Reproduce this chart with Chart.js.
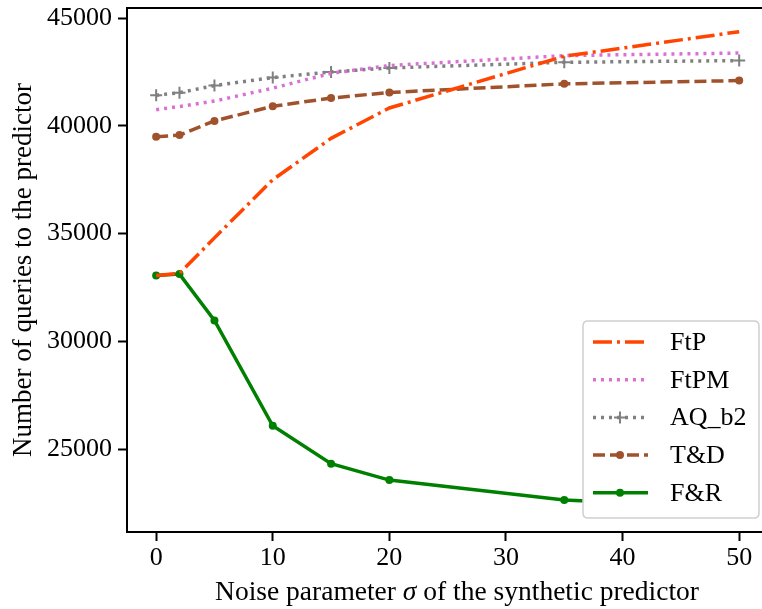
<!DOCTYPE html>
<html>
<head>
<meta charset="utf-8">
<script src="https://cdn.jsdelivr.net/npm/chart.js@4.4.0/dist/chart.umd.min.js"></script>
<style>
  html, body { margin: 0; padding: 0; background: #fff; }
  #wrap { width: 762px; height: 609px; }
</style>
</head>
<body>
<div id="wrap"><canvas id="myChart" width="762" height="609"></canvas></div>
<script>
// noise parameter sigma (x values)
const sigma = [0, 2, 5, 10, 15, 20, 35, 50];

// number of queries per method
const ftp  = [33050, 33150, 34800, 37500, 39420, 40830, 43230, 44370];
const ftpm = [40750, 40900, 41150, 41750, 42440, 42800, 43260, 43380];
const aqb2 = [41420, 41540, 41870, 42240, 42500, 42690, 42950, 43030];
const td   = [39490, 39570, 40230, 40910, 41290, 41550, 41950, 42100];
const fr   = [33050, 33120, 30970, 26080, 24320, 23560, 22630, 22260];

const xTicks = [0, 10, 20, 30, 40, 50];
const yTicks = [25000, 30000, 35000, 40000, 45000];

const serif = "'Liberation Serif', 'Times New Roman', serif";

const pts = (arr) => arr.map((v, i) => ({ x: sigma[i], y: v }));

// top frame line, axis titles (with italic sigma) and a matplotlib-like legend
const framePlugin = {
  id: 'frame',
  afterDraw(chart) {
    const c = chart.ctx, a = chart.chartArea;
    c.save();
    c.strokeStyle = '#000';
    c.lineWidth = 2;
    c.beginPath();
    c.moveTo(a.left - 1, a.top);
    c.lineTo(chart.width, a.top);
    c.stroke();
    // x axis runs past the crop on the right as well
    c.beginPath();
    c.moveTo(a.right, a.bottom);
    c.lineTo(chart.width, a.bottom);
    c.stroke();

    // axis titles
    c.fillStyle = '#000';
    c.textBaseline = 'alphabetic';
    const parts = [['Noise parameter ', ''], ['σ', 'italic '], [' of the synthetic predictor', '']];
    let total = 0;
    parts.forEach(p => { c.font = p[1] + '27.5px ' + serif; total += c.measureText(p[0]).width; });
    let tx = 457 - total / 2;
    c.textAlign = 'left';
    parts.forEach(p => {
      c.font = p[1] + '27.5px ' + serif;
      c.fillText(p[0], tx, 600);
      tx += c.measureText(p[0]).width;
    });
    c.save();
    c.translate(31, (a.top + a.bottom) / 2);
    c.rotate(-Math.PI / 2);
    c.textAlign = 'center';
    c.font = '27px ' + serif;
    c.fillText('Number of queries to the predictor', 0, 0);
    c.restore();

    // legend box
    const bx = 583, by = 321, bw = 176, bh = 197, r = 5;
    c.fillStyle = '#fff';
    c.strokeStyle = '#d0d0d0';
    c.lineWidth = 1.5;
    c.beginPath();
    c.moveTo(bx + r, by);
    c.lineTo(bx + bw - r, by);
    c.quadraticCurveTo(bx + bw, by, bx + bw, by + r);
    c.lineTo(bx + bw, by + bh - r);
    c.quadraticCurveTo(bx + bw, by + bh, bx + bw - r, by + bh);
    c.lineTo(bx + r, by + bh);
    c.quadraticCurveTo(bx, by + bh, bx, by + bh - r);
    c.lineTo(bx, by + r);
    c.quadraticCurveTo(bx, by, bx + r, by);
    c.closePath();
    c.fill();
    c.stroke();

    chart.data.datasets.forEach((ds, i) => {
      const y = 342 + i * 37.7;
      c.strokeStyle = ds.borderColor;
      c.lineWidth = ds.borderWidth;
      c.setLineDash(ds.borderDash || []);
      c.beginPath();
      c.moveTo(593, y);
      c.lineTo(648, y);
      c.stroke();
      c.setLineDash([]);
      if (ds.pointRadius > 0) {
        const mx = 620;
        if (ds.pointStyle === 'cross') {
          c.lineWidth = 2;
          c.beginPath();
          c.moveTo(mx - ds.pointRadius, y); c.lineTo(mx + ds.pointRadius, y);
          c.moveTo(mx, y - ds.pointRadius); c.lineTo(mx, y + ds.pointRadius);
          c.stroke();
        } else {
          c.fillStyle = ds.borderColor;
          c.beginPath();
          c.arc(mx, y, ds.pointRadius, 0, Math.PI * 2);
          c.fill();
        }
      }
      c.fillStyle = '#000';
      c.font = '26px ' + serif;
      c.textBaseline = 'middle';
      c.textAlign = 'left';
      c.fillText(ds.label, 670, y + 1);
    });
    c.restore();
  }
};

new Chart(document.getElementById('myChart'), {
  type: 'line',
  data: {
    datasets: [
      { label: 'FtP', data: pts(ftp), borderColor: '#ff4500', borderWidth: 3.5,
        borderDash: [19, 5, 3, 5], pointRadius: 0 },
      { label: 'FtPM', data: pts(ftpm), borderColor: '#da70d6', borderWidth: 3.5,
        borderDash: [3, 5], pointRadius: 0 },
      { label: 'AQ_b2', data: pts(aqb2), borderColor: '#808080', borderWidth: 3.5,
        borderDash: [3, 5], pointStyle: 'cross', pointRadius: 6, pointBorderWidth: 2,
        pointBorderColor: '#808080' },
      { label: 'T&D', data: pts(td), borderColor: '#a0522d', borderWidth: 3.5,
        borderDash: [12, 5], pointRadius: 4, pointBackgroundColor: '#a0522d',
        pointBorderWidth: 0 },
      { label: 'F&R', data: pts(fr), borderColor: '#008000', borderWidth: 3.5,
        pointRadius: 4, pointBackgroundColor: '#008000', pointBorderWidth: 0 }
    ]
  },
  options: {
    responsive: false,
    animation: false,
    layout: { padding: { top: 5, right: 1, left: 0, bottom: 0 } },
    plugins: { legend: { display: false }, tooltip: { enabled: false } },
    scales: {
      x: {
        type: 'linear', min: -2.5, max: 51.27,
        afterBuildTicks: (s) => { s.ticks = xTicks.map(v => ({ value: v })); },
        afterFit: (s) => { s.height = 77; s.paddingLeft = 0; s.paddingRight = 0; },
        grid: { drawOnChartArea: false, color: '#000', tickLength: 9, tickWidth: 2 },
        border: { color: '#000', width: 2 },
        ticks: { color: '#000', font: { family: serif, size: 26 }, padding: 2, maxRotation: 0 },
        title: { display: false }
      },
      y: {
        min: 21150, max: 45470,
        afterBuildTicks: (s) => { s.ticks = yTicks.map(v => ({ value: v })); },
        afterFit: (s) => { s.width = 127; s.paddingTop = 0; s.paddingBottom = 0; },
        grid: { drawOnChartArea: false, color: '#000', tickLength: 9, tickWidth: 2 },
        border: { color: '#000', width: 2 },
        ticks: { color: '#000', font: { family: serif, size: 26 }, padding: 6,
                 callback: (v) => String(v) },
        title: { display: false }
      }
    }
  },
  plugins: [framePlugin]
});
</script>
</body>
</html>
